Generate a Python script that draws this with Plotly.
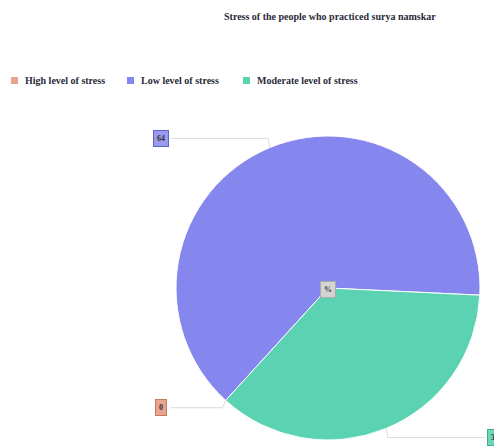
import math
import plotly.graph_objects as go

# ---- data ----
categories = ["High level of stress", "Low level of stress", "Moderate level of stress"]
values = [0, 64, 36]
title_text = "Stress of the people who practiced surya namskar"

# ---- style ----
colors = ["#E9A28C", "#8687EE", "#5BD3B3"]
label_fills = ["#E8A48E", "#9A9BF0", "#6FD6BA"]
label_borders = ["#C07A66", "#6163C8", "#3FAE90"]
W, H = 502, 448
OFF = 8  # page body margin
CX, CY, R = 328, 288, 152
ROTATION = 222.3
SERIF = "Liberation Serif, Times New Roman, serif"


def px(x):
    return (x - OFF) / W


def py(y):
    return 1 - (y - OFF) / H


fig = go.Figure(
    go.Pie(
        labels=categories,
        values=values,
        sort=False,
        direction="clockwise",
        rotation=ROTATION,
        marker=dict(colors=colors, line=dict(color="white", width=1)),
        textinfo="none",
        hoverinfo="label+value+percent",
        showlegend=False,
        domain=dict(x=[px(CX - R), px(CX + R)], y=[py(CY + R), py(CY - R)]),
    )
)

shapes = []
annotations = []

# labels with leader lines, positioned from each slice's mid angle
total = sum(values)
start = ROTATION
for i, (cat, v) in enumerate(zip(categories, values)):
    sweep = 360 * v / total
    mid = math.radians(start + sweep / 2)
    start += sweep
    s, c = math.sin(mid), math.cos(mid)
    ex, ey = CX + R * s, CY - R * c
    bx, by = CX + 1.03 * R * s, CY - 1.065 * R * c
    side = 1 if s >= 0 else -1
    lx = CX + side * 1.1 * R
    ly = by
    shapes.append(dict(
        type="path", xref="paper", yref="paper",
        path=f"M {px(ex)} {py(ey)} L {px(bx)} {py(by)} L {px(lx - side*10)} {py(ly)}",
        line=dict(color="#DADADA", width=1),
    ))
    annotations.append(dict(
        x=px(lx), y=py(ly), xref="paper", yref="paper",
        text=f"<b>{v}</b>", showarrow=False,
        font=dict(family=SERIF, size=8, color="#333"),
        bgcolor=label_fills[i], bordercolor=label_borders[i], borderwidth=1,
        borderpad=3, xanchor="center", yanchor="middle",
    ))

# center marker
annotations.append(dict(
    x=px(CX), y=py(CY + 1), xref="paper", yref="paper",
    text="<b>%</b>", showarrow=False,
    font=dict(family=SERIF, size=8, color="#444"),
    bgcolor="#D4D4D4", bordercolor="#AAAAAA", borderwidth=1, borderpad=3,
))

# title
annotations.append(dict(
    x=px(330), y=py(17), xref="paper", yref="paper",
    text=f"<b>{title_text}</b>", showarrow=False,
    font=dict(family=SERIF, size=10, color="#2A2A3A"),
    xanchor="center", yanchor="middle",
))

# custom legend
legend_x = [11, 127, 243]
for i, cat in enumerate(categories):
    x0 = legend_x[i]
    shapes.append(dict(
        type="rect", xref="paper", yref="paper",
        x0=px(x0), x1=px(x0 + 7), y0=py(84), y1=py(77),
        fillcolor=colors[i], line=dict(width=0),
    ))
    annotations.append(dict(
        x=px(x0 + 12), y=py(80.5), xref="paper", yref="paper",
        text=f"<b>{cat}</b>", showarrow=False,
        font=dict(family=SERIF, size=10, color="#2A2A3A"),
        xanchor="left", yanchor="middle",
    ))

fig.update_layout(
    width=W, height=H,
    margin=dict(l=0, r=0, t=0, b=0),
    paper_bgcolor="white", plot_bgcolor="white",
    shapes=shapes, annotations=annotations,
    showlegend=False,
)

fig.write_html("out.html")
